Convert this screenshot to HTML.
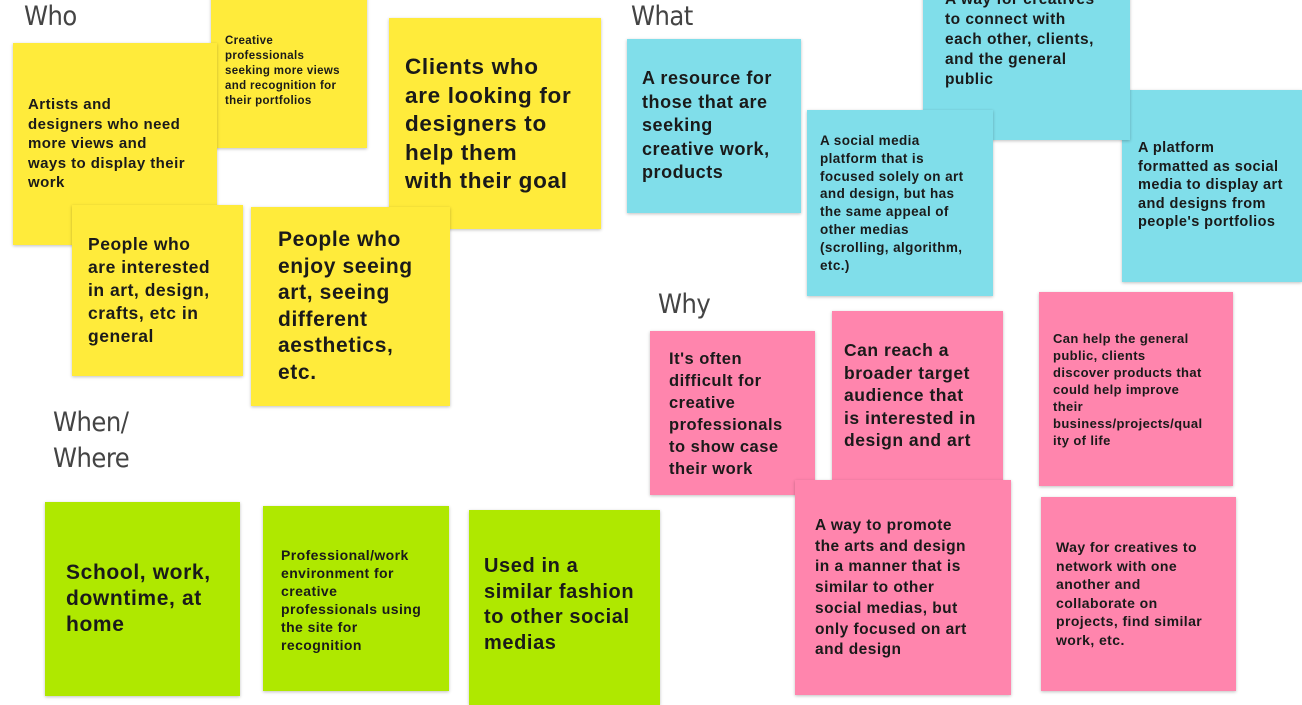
<!DOCTYPE html>
<html><head><meta charset="utf-8"><style>
body{margin:0;width:1302px;height:700px;background:#fff;position:relative;overflow:hidden;font-family:"Liberation Sans",sans-serif}
.n{position:absolute;box-shadow:0 1px 3px rgba(0,0,0,.25)}
.n div{position:absolute;font-weight:bold;color:#1a1a1a;white-space:nowrap;letter-spacing:0.03em}
.y{background:#ffeb3b}.c{background:#80deea}.p{background:#ff85ad}.g{background:#afe800}
.h{position:absolute;color:#444;font-size:27px;font-family:"DejaVu Sans Condensed","Liberation Sans",sans-serif;letter-spacing:-0.5px}
</style></head><body>
<div class="h" style="left:24px;top:1px">Who</div>
<div class="h" style="left:631px;top:1px">What</div>
<div class="h" style="left:658px;top:289px">Why</div>
<div class="h" style="left:53px;top:405px;line-height:36px">When/<br>Where</div>

<div class="n y" style="left:211px;top:-4px;width:156px;height:152px"><div style="left:14px;top:38px;font-size:11.5px;line-height:15px">Creative<br>professionals<br>seeking more views<br>and recognition for<br>their portfolios</div></div>
<div class="n y" style="left:13px;top:43px;width:204px;height:202px"><div style="left:15px;top:52px;font-size:15px;line-height:19.5px">Artists and<br>designers who need<br>more views and<br>ways to display their<br>work</div></div>
<div class="n y" style="left:389px;top:18px;width:212px;height:211px"><div style="left:16px;top:35px;font-size:22.5px;line-height:28.5px">Clients who<br>are looking for<br>designers to<br>help them<br>with their goal</div></div>
<div class="n y" style="left:72px;top:205px;width:171px;height:171px"><div style="left:16px;top:28px;font-size:17.5px;line-height:23px">People who<br>are interested<br>in art, design,<br>crafts, etc in<br>general</div></div>
<div class="n y" style="left:251px;top:207px;width:199px;height:199px"><div style="left:27px;top:20px;font-size:21px;line-height:26.5px">People who<br>enjoy seeing<br>art, seeing<br>different<br>aesthetics,<br>etc.</div></div>

<div class="n c" style="left:627px;top:39px;width:174px;height:174px"><div style="left:15px;top:28px;font-size:18px;line-height:23.5px">A resource for<br>those that are<br>seeking<br>creative work,<br>products</div></div>
<div class="n c" style="left:1122px;top:90px;width:180px;height:192px"><div style="left:16px;top:49px;font-size:14.5px;line-height:18.5px">A platform<br>formatted as social<br>media to display art<br>and designs from<br>people's portfolios</div></div>
<div class="n c" style="left:923px;top:-20px;width:207px;height:160px"><div style="left:22px;top:10px;font-size:15.5px;line-height:20px">A way for creatives<br>to connect with<br>each other, clients,<br>and the general<br>public</div></div>
<div class="n c" style="left:807px;top:110px;width:186px;height:186px"><div style="left:13px;top:22px;font-size:13.5px;line-height:17.8px">A social media<br>platform that is<br>focused solely on art<br>and design, but has<br>the same appeal of<br>other medias<br>(scrolling, algorithm,<br>etc.)</div></div>

<div class="n p" style="left:650px;top:331px;width:165px;height:164px"><div style="left:19px;top:17px;font-size:16.5px;line-height:22px">It's often<br>difficult for<br>creative<br>professionals<br>to show case<br>their work</div></div>
<div class="n p" style="left:832px;top:311px;width:171px;height:172px"><div style="left:12px;top:28px;font-size:17.5px;line-height:22.5px">Can reach a<br>broader target<br>audience that<br>is interested in<br>design and art</div></div>
<div class="n p" style="left:1039px;top:292px;width:194px;height:194px"><div style="left:14px;top:38px;font-size:13px;line-height:17px">Can help the general<br>public, clients<br>discover products that<br>could help improve<br>their<br>business/projects/qual<br>ity of life</div></div>
<div class="n p" style="left:795px;top:480px;width:216px;height:215px"><div style="left:20px;top:36px;font-size:15.5px;line-height:20.7px">A way to promote<br>the arts and design<br>in a manner that is<br>similar to other<br>social medias, but<br>only focused on art<br>and design</div></div>
<div class="n p" style="left:1041px;top:497px;width:195px;height:194px"><div style="left:15px;top:41px;font-size:14px;line-height:18.6px">Way for creatives to<br>network with one<br>another and<br>collaborate on<br>projects, find similar<br>work, etc.</div></div>

<div class="n g" style="left:45px;top:502px;width:195px;height:194px"><div style="left:21px;top:58px;font-size:21px;line-height:26px">School, work,<br>downtime, at<br>home</div></div>
<div class="n g" style="left:263px;top:506px;width:186px;height:185px"><div style="left:18px;top:40px;font-size:14px;line-height:18px">Professional/work<br>environment for<br>creative<br>professionals using<br>the site for<br>recognition</div></div>
<div class="n g" style="left:469px;top:510px;width:191px;height:195px"><div style="left:15px;top:44px;font-size:20px;line-height:25.5px">Used in a<br>similar fashion<br>to other social<br>medias</div></div>
</body></html>
